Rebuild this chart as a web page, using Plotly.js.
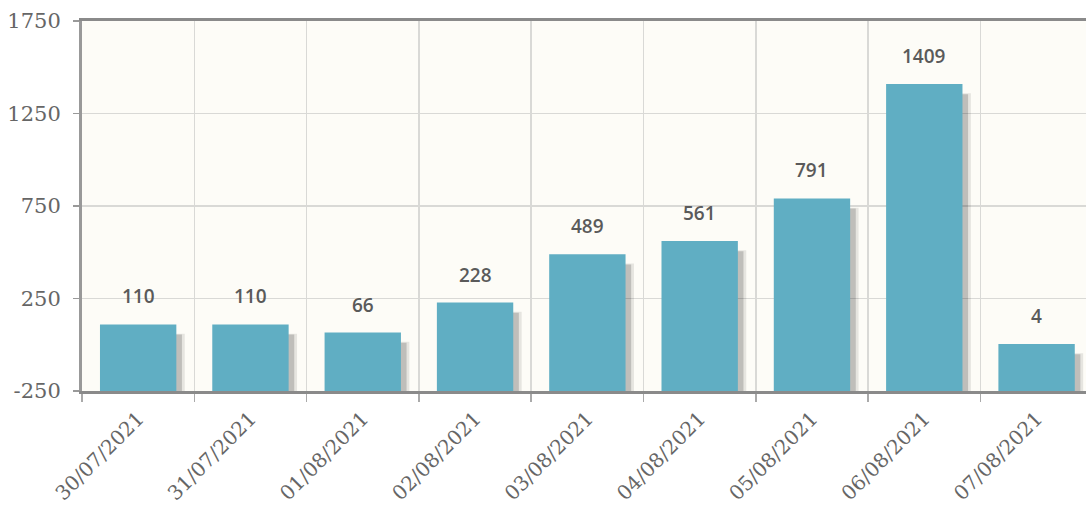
<!DOCTYPE html>
<html>
<head>
<meta charset="utf-8">
<script src="https://cdn.plot.ly/plotly-3.0.1.min.js"></script>
<style>html,body{margin:0;padding:0;background:#fff;}#chart{width:1086px;height:517px;}</style>
</head>
<body>
<div id="chart"></div>
<script>
const categories = ["30/07/2021","31/07/2021","01/08/2021","02/08/2021","03/08/2021","04/08/2021","05/08/2021","06/08/2021","07/08/2021"];
const values = [110, 110, 66, 228, 489, 561, 791, 1409, 4];
const yTickVals = [-250, 250, 750, 1250, 1750];

const BASE = -250;
const heights = values.map(v => v - BASE);
const SERIF = "'DejaVu Serif', 'Liberation Serif', serif";

const shadow1 = {
  type: 'bar', x: categories, y: heights.map(h => Math.max(h - 50, 0)), base: BASE,
  width: 0.68, offset: -0.34 + 0.075,
  marker: {color: 'rgba(0,0,0,0.09)', line: {width: 0}},
  hoverinfo: 'skip', showlegend: false
};
const shadow2 = {
  type: 'bar', x: categories, y: heights.map(h => Math.max(h - 55, 0)), base: BASE,
  width: 0.68, offset: -0.34 + 0.05,
  marker: {color: 'rgba(0,0,0,0.17)', line: {width: 0}},
  hoverinfo: 'skip', showlegend: false
};
const bars = {
  type: 'bar', x: categories, y: heights, base: BASE,
  width: 0.68, offset: -0.34,
  marker: {color: '#60aec3', line: {width: 0}},
  text: values.map(String), textposition: 'none',
  hovertemplate: '%{x}: %{text}<extra></extra>', showlegend: false
};

const annotations = categories.map((c, i) => ({
  x: c, y: values[i], xref: 'x', yref: 'y',
  text: String(values[i]), showarrow: false,
  yanchor: 'bottom', yshift: 13,
  font: {family: "'Open Sans', sans-serif", size: 19, color: '#5a5a5a', weight: 600}
}));

const layout = {
  width: 1086, height: 517,
  margin: {l: 82, r: 0, t: 21, b: 126},
  paper_bgcolor: '#ffffff',
  plot_bgcolor: '#fdfcf7',
  barmode: 'overlay',
  showlegend: false,
  xaxis: {
    type: 'category',
    range: [-0.5, 8.44],
    tickson: 'boundaries',
    ticks: 'outside', ticklen: 8, tickcolor: '#aaa', tickwidth: 1.5,
    showgrid: true, gridcolor: '#d9d9d6', gridwidth: 1.5,
    showline: true, linecolor: '#8a8a8a', linewidth: 3, mirror: true,
    tickangle: -45,
    ticklabelstandoff: 5,
    tickfont: {family: SERIF, size: 20, color: '#666'},
    fixedrange: true
  },
  yaxis: {
    range: [-250, 1750],
    tickvals: yTickVals,
    ticktext: yTickVals.map(String),
    ticks: 'outside', ticklen: 6, tickcolor: '#999', tickwidth: 1.5,
    showgrid: true, gridcolor: '#d9d9d6', gridwidth: 1.5,
    showline: true, linecolor: '#999', linewidth: 3,
    zeroline: false,
    ticklabelstandoff: 8,
    tickfont: {family: SERIF, size: 21, color: '#666'},
    fixedrange: true
  },
  annotations: annotations
};

Plotly.newPlot('chart', [shadow1, shadow2, bars], layout, {displayModeBar: false, staticPlot: true});
</script>
</body>
</html>
